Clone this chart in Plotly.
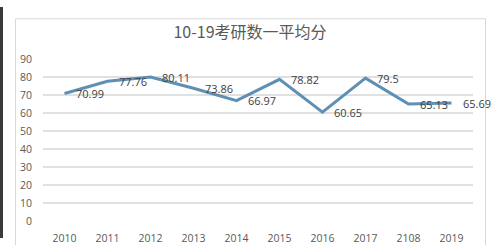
import plotly.graph_objects as go

years = ["2010", "2011", "2012", "2013", "2014", "2015", "2016", "2017", "2108", "2019"]
scores = [70.99, 77.76, 80.11, 73.86, 66.97, 78.82, 60.65, 79.5, 65.13, 65.69]
labels = ["70.99", "77.76", "80.11", "73.86", "66.97", "78.82", "60.65", "79.5", "65.13", "65.69"]
title_text = "10-19考研数一平均分"

W, H = 499, 245
fig = go.Figure()
fig.add_trace(go.Scatter(
    x=years, y=scores, mode="lines",
    line=dict(color="#5E8FB5", width=3),
    cliponaxis=False, hoverinfo="skip", showlegend=False,
))

# annotations on a category axis are placed by category index
annotations = [
    dict(x=i, y=v, text=t, xref="x", yref="y", xanchor="left", yanchor="middle",
         xshift=9, showarrow=False,
         font=dict(family="Open Sans, Noto Sans, sans-serif", size=11, color="#404040"))
    for i, (v, t) in enumerate(zip(scores, labels))
]

fig.update_layout(
    width=W, height=H, margin=dict(l=0, r=0, t=0, b=0),
    paper_bgcolor="white", plot_bgcolor="white",
    title=dict(text=title_text, x=250 / W, xanchor="center", y=1 - 32 / H, yanchor="middle",
               font=dict(family="Noto Sans CJK SC, sans-serif", size=16, color="#595959")),
    xaxis=dict(type="category", categoryorder="array", categoryarray=years,
               range=[-0.5, len(years) - 0.5], domain=[43 / W, 473 / W],
               showgrid=False, showline=False,
               zeroline=False, ticks="", ticklabelstandoff=9,
               tickfont=dict(family="Open Sans, Noto Sans, sans-serif", size=10.5, color="#595959")),
    yaxis=dict(range=[0, 90], dtick=10, domain=[(H - 227.3) / H, (H - 55.4) / H],
               showgrid=True, gridcolor="#E0E0E0", gridwidth=2, zeroline=False,
               showline=False, ticks="", ticklabelstandoff=10,
               tickfont=dict(family="Open Sans, Noto Sans, sans-serif", size=10.5, color="#595959")),
    annotations=annotations,
    shapes=[
        dict(type="rect", xref="paper", yref="paper", x0=0, x1=3 / W, y0=0, y1=1,
             fillcolor="#3A3A3A", line=dict(width=0), layer="above"),
        dict(type="rect", xref="paper", yref="paper", x0=15.5 / W, x1=485.5 / W,
             y0=-0.05, y1=1 - 12.5 / H, line=dict(color="#D9D9D9", width=1), layer="below"),
    ],
)

fig.write_html("out.html")
